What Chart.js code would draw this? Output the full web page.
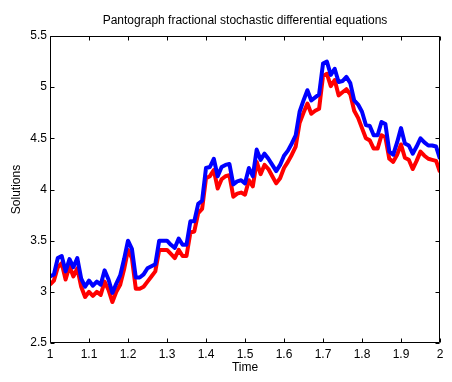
<!DOCTYPE html>
<html>
<head>
<meta charset="utf-8">
<script src="https://cdn.jsdelivr.net/npm/chart.js@4/dist/chart.umd.min.js"></script>
<style>
  body { margin: 0; background: #fff; }
  canvas { display: block; }
</style>
</head>
<body>
<canvas id="chart" width="452" height="382"></canvas>
<script>
// data
const times = [
  1.00, 1.01, 1.02, 1.03, 1.04, 1.05, 1.06, 1.07, 1.08, 1.09,
  1.10, 1.11, 1.12, 1.13, 1.14, 1.15, 1.16, 1.17, 1.18, 1.19,
  1.20, 1.21, 1.22, 1.23, 1.24, 1.25, 1.26, 1.27, 1.28, 1.29,
  1.30, 1.31, 1.32, 1.33, 1.34, 1.35, 1.36, 1.37, 1.38, 1.39,
  1.40, 1.41, 1.42, 1.43, 1.44, 1.45, 1.46, 1.47, 1.48, 1.49,
  1.50, 1.51, 1.52, 1.53, 1.54, 1.55, 1.56, 1.57, 1.58, 1.59,
  1.60, 1.61, 1.62, 1.63, 1.64, 1.65, 1.66, 1.67, 1.68, 1.69,
  1.70, 1.71, 1.72, 1.73, 1.74, 1.75, 1.76, 1.77, 1.78, 1.79,
  1.80, 1.81, 1.82, 1.83, 1.84, 1.85, 1.86, 1.87, 1.88, 1.89,
  1.90, 1.91, 1.92, 1.93, 1.94, 1.95, 1.96, 1.97, 1.98, 1.99,
  2.00
];

const blueSolution = [
  3.15, 3.17, 3.33, 3.35, 3.20, 3.32, 3.24, 3.33, 3.13, 3.05,
  3.11, 3.06, 3.10, 3.07, 3.21, 3.12, 2.99, 3.08, 3.16, 3.32,
  3.50, 3.42, 3.14, 3.14, 3.17, 3.23, 3.25, 3.27, 3.50, 3.50,
  3.50, 3.46, 3.43, 3.52, 3.46, 3.46, 3.69, 3.69, 3.86, 3.89,
  4.21, 4.22, 4.30, 4.13, 4.22, 4.24, 4.25, 4.05, 4.08, 4.09,
  4.06, 4.21, 4.13, 4.39, 4.29, 4.35, 4.30, 4.24, 4.18, 4.24,
  4.33, 4.38, 4.45, 4.53, 4.76, 4.87, 4.97, 4.87, 4.90, 4.93,
  5.23, 5.25, 5.12, 5.18, 5.05, 5.06, 5.10, 5.04, 4.87, 4.83,
  4.76, 4.63, 4.62, 4.53, 4.53, 4.66, 4.64, 4.37, 4.34, 4.46,
  4.60, 4.45, 4.43, 4.35, 4.42, 4.50, 4.46, 4.43, 4.43, 4.42,
  4.30
];

const redSolution = [
  3.07, 3.11, 3.24, 3.28, 3.12, 3.25, 3.15, 3.23, 3.05, 2.95,
  3.00, 2.96, 3.00, 2.97, 3.10, 3.02, 2.90, 3.00, 3.07, 3.22,
  3.41, 3.33, 3.03, 3.03, 3.05, 3.10, 3.15, 3.20, 3.41, 3.41,
  3.41, 3.37, 3.33, 3.41, 3.35, 3.35, 3.58, 3.59, 3.77, 3.81,
  4.11, 4.13, 4.19, 4.01, 4.10, 4.13, 4.14, 3.93, 3.96, 3.97,
  3.95, 4.09, 4.03, 4.27, 4.15, 4.24, 4.20, 4.13, 4.06, 4.11,
  4.21, 4.27, 4.34, 4.42, 4.65, 4.75, 4.84, 4.74, 4.77, 4.79,
  5.11, 5.13, 5.01, 5.07, 4.92, 4.95, 4.98, 4.93, 4.77, 4.70,
  4.60, 4.50, 4.48, 4.40, 4.40, 4.53, 4.51, 4.30, 4.27, 4.34,
  4.44, 4.31, 4.29, 4.20, 4.28, 4.37, 4.33, 4.30, 4.29, 4.28,
  4.17
];

const TITLE = 'Pantograph fractional stochastic differential equations';
const FONT = 'Liberation Sans, Arial, Helvetica, sans-serif';

const toPoints = vals => vals.map((v, i) => ({ x: times[i], y: v }));

// matlab style box with inward ticks on all sides, title centred over the axes
const boxTicks = {
  id: 'boxTicks',
  afterDraw(chart) {
    const { ctx, chartArea: a, scales: { x, y } } = chart;
    const L = Math.round(a.left) + 0.5, R = Math.round(a.right) - 0.5;
    const T = Math.round(a.top) + 0.5, B = Math.round(a.bottom) - 0.5;
    const len = 4;
    ctx.save();
    ctx.strokeStyle = '#000';
    ctx.lineWidth = 1;
    ctx.beginPath();
    ctx.rect(L, T, R - L, B - T);
    x.ticks.forEach(t => {
      const px = Math.round(x.getPixelForValue(t.value)) + 0.5;
      ctx.moveTo(px, B); ctx.lineTo(px, B - len);
      ctx.moveTo(px, T); ctx.lineTo(px, T + len);
    });
    y.ticks.forEach(t => {
      const py = Math.round(y.getPixelForValue(t.value)) + 0.5;
      ctx.moveTo(L, py); ctx.lineTo(L + len, py);
      ctx.moveTo(R, py); ctx.lineTo(R - len, py);
    });
    ctx.stroke();

    ctx.fillStyle = '#000';
    ctx.font = '12px ' + FONT;
    ctx.textAlign = 'center';
    ctx.textBaseline = 'middle';
    ctx.fillText(TITLE, (a.left + a.right) / 2, 21);
    ctx.restore();
  }
};

new Chart(document.getElementById('chart'), {
  type: 'line',
  data: {
    datasets: [
      { data: toPoints(blueSolution), borderColor: '#0000ff', borderWidth: 4 },
      { data: toPoints(redSolution), borderColor: '#ff0000', borderWidth: 4 }
    ]
  },
  options: {
    responsive: false,
    animation: false,
    elements: {
      point: { radius: 0 },
      line: { tension: 0, borderJoinStyle: 'round', fill: false }
    },
    layout: { padding: { left: 0, right: 12, top: 36, bottom: 0 } },
    plugins: {
      legend: { display: false },
      tooltip: { enabled: false },
      title: { display: false }
    },
    scales: {
      x: {
        type: 'linear',
        min: 1,
        max: 2,
        grid: { display: false, drawTicks: false },
        border: { display: false },
        ticks: {
          stepSize: 0.1,
          padding: 4,
          maxRotation: 0,
          color: '#000',
          font: { family: FONT, size: 12 },
          callback: v => String(+v.toFixed(1))
        },
        title: {
          display: true,
          text: 'Time',
          color: '#000',
          font: { family: FONT, size: 12 },
          padding: { top: 0, bottom: 7 }
        },
        afterFit: s => { s.height = 39; }
      },
      y: {
        min: 2.5,
        max: 5.5,
        grid: { display: false, drawTicks: false },
        border: { display: false },
        ticks: {
          stepSize: 0.5,
          padding: 3,
          color: '#000',
          font: { family: FONT, size: 12 },
          callback: v => String(+v.toFixed(1))
        },
        title: {
          display: true,
          text: 'Solutions',
          color: '#000',
          font: { family: FONT, size: 12 },
          padding: { top: 9, bottom: 0 }
        },
        afterFit: s => { s.width = 50; }
      }
    }
  },
  plugins: [boxTicks]
});
</script>
</body>
</html>
